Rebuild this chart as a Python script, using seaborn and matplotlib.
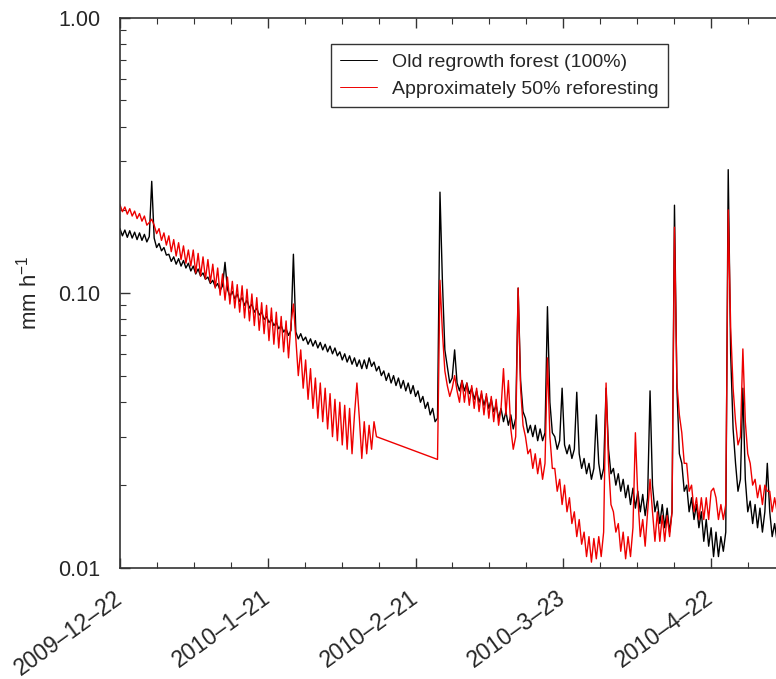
import numpy as np
import pandas as pd
import matplotlib
matplotlib.use('Agg')
import matplotlib.pyplot as plt
from matplotlib.ticker import MultipleLocator, LogLocator, NullFormatter
import seaborn as sns

# half-day samples, mm/h
step = 0.5

old_forest = [
    0.171, 0.161, 0.169, 0.159, 0.168, 0.158, 0.166, 0.156, 0.165, 0.155,
    0.163, 0.153, 0.160, 0.254, 0.158, 0.146, 0.151, 0.142, 0.146, 0.137,
    0.138, 0.130, 0.135, 0.127, 0.133, 0.125, 0.131, 0.123, 0.128, 0.120,
    0.125, 0.117, 0.122, 0.115, 0.118, 0.112, 0.114, 0.108, 0.111, 0.105,
    0.108, 0.102, 0.106, 0.129, 0.103, 0.097, 0.101, 0.095, 0.099, 0.093,
    0.096, 0.090, 0.094, 0.088, 0.091, 0.085, 0.088, 0.083, 0.085, 0.080,
    0.082, 0.078, 0.080, 0.076, 0.078, 0.074, 0.076, 0.072, 0.074, 0.070,
    0.073, 0.138, 0.072, 0.068, 0.071, 0.067, 0.069, 0.065, 0.068, 0.064,
    0.067, 0.063, 0.066, 0.062, 0.065, 0.061, 0.064, 0.060, 0.063, 0.059,
    0.061, 0.057, 0.060, 0.056, 0.059, 0.055, 0.058, 0.054, 0.057, 0.053,
    0.057, 0.053, 0.058, 0.054, 0.056, 0.052, 0.054, 0.050, 0.052, 0.048,
    0.051, 0.047, 0.050, 0.046, 0.049, 0.045, 0.048, 0.044, 0.047, 0.043,
    0.046, 0.042, 0.044, 0.040, 0.042, 0.038, 0.040, 0.036, 0.038, 0.034,
    0.035, 0.232, 0.110, 0.062, 0.054, 0.047, 0.049, 0.062, 0.047, 0.044,
    0.048, 0.044, 0.047, 0.043, 0.045, 0.041, 0.044, 0.040, 0.043, 0.039,
    0.042, 0.038, 0.041, 0.037, 0.039, 0.035, 0.038, 0.034, 0.037, 0.033,
    0.036, 0.032, 0.035, 0.104, 0.048, 0.037, 0.035, 0.031, 0.033, 0.030,
    0.033, 0.029, 0.032, 0.029, 0.031, 0.089, 0.040, 0.031, 0.030, 0.027,
    0.029, 0.045, 0.028, 0.026, 0.028, 0.025, 0.027, 0.0435, 0.026, 0.023,
    0.025, 0.022, 0.024, 0.021, 0.023, 0.036, 0.024, 0.021, 0.023, 0.045,
    0.027, 0.022, 0.023, 0.020, 0.022, 0.019, 0.021, 0.018, 0.020, 0.017,
    0.0195, 0.0165, 0.019, 0.016, 0.0185, 0.0155, 0.018, 0.044, 0.020, 0.016,
    0.0175, 0.0145, 0.017, 0.014, 0.0165, 0.0135, 0.016, 0.208, 0.045, 0.026,
    0.024, 0.019, 0.020, 0.016, 0.018, 0.015, 0.017, 0.014, 0.016, 0.0125,
    0.015, 0.012, 0.014, 0.011, 0.0135, 0.011, 0.013, 0.0115, 0.0135, 0.280,
    0.060, 0.032, 0.024, 0.019, 0.021, 0.045, 0.021, 0.016, 0.0175, 0.0145,
    0.017, 0.0140, 0.0165, 0.0135, 0.016, 0.024, 0.016, 0.013, 0.0145, 0.0125,
]

# reforesting site: record stops on day 52.5 and resumes on day 65
refor_start_a = 0.0
refor_a = [
    0.209, 0.197, 0.205, 0.193, 0.202, 0.190, 0.198, 0.186, 0.194, 0.182,
    0.190, 0.176, 0.180, 0.185, 0.176, 0.164, 0.171, 0.155, 0.165, 0.149,
    0.161, 0.141, 0.156, 0.136, 0.152, 0.132, 0.148, 0.128, 0.143, 0.125,
    0.143, 0.118, 0.139, 0.115, 0.135, 0.112, 0.132, 0.109, 0.127, 0.104,
    0.123, 0.098, 0.117, 0.094, 0.114, 0.091, 0.110, 0.088, 0.107, 0.085,
    0.106, 0.081, 0.103, 0.079, 0.099, 0.076, 0.096, 0.073, 0.092, 0.071,
    0.090, 0.067, 0.088, 0.065, 0.085, 0.063, 0.082, 0.061, 0.079, 0.058,
    0.077, 0.091, 0.068, 0.050, 0.062, 0.045, 0.057, 0.041, 0.053, 0.038,
    0.049, 0.035, 0.047, 0.034, 0.045, 0.032, 0.043, 0.030, 0.041, 0.029,
    0.040, 0.028, 0.039, 0.027, 0.038, 0.026, 0.036, 0.047, 0.035, 0.025,
    0.034, 0.026, 0.033, 0.027, 0.034, 0.030,
]
refor_start_b = 65.0
refor_b = [
    0.0248, 0.111, 0.072, 0.052, 0.046, 0.042, 0.045, 0.050, 0.044, 0.040,
    0.048, 0.040, 0.047, 0.039, 0.046, 0.038, 0.045, 0.037, 0.044, 0.036,
    0.043, 0.035, 0.042, 0.034, 0.041, 0.033, 0.038, 0.053, 0.036, 0.048,
    0.032, 0.027, 0.030, 0.104, 0.045, 0.033, 0.030, 0.026, 0.027, 0.023,
    0.026, 0.022, 0.025, 0.021, 0.024, 0.058, 0.030, 0.023, 0.023, 0.019,
    0.021, 0.017, 0.020, 0.016, 0.018, 0.0145, 0.016, 0.013, 0.015, 0.0122,
    0.0135, 0.011, 0.013, 0.0105, 0.0128, 0.0108, 0.013, 0.011, 0.0135, 0.047,
    0.024, 0.017, 0.016, 0.0135, 0.0145, 0.0115, 0.0135, 0.0108, 0.013, 0.011,
    0.014, 0.031, 0.018, 0.013, 0.015, 0.012, 0.016, 0.021, 0.016, 0.0125,
    0.016, 0.0125, 0.0155, 0.0125, 0.0155, 0.013, 0.016, 0.173, 0.047, 0.036,
    0.031, 0.024, 0.024, 0.019, 0.020, 0.016, 0.018, 0.015, 0.018, 0.015,
    0.018, 0.015, 0.019, 0.0195, 0.018, 0.015, 0.017, 0.015, 0.017, 0.200,
    0.075, 0.045, 0.034, 0.028, 0.030, 0.0625, 0.034, 0.026, 0.024, 0.020,
    0.021, 0.018, 0.020, 0.017, 0.020, 0.019, 0.019, 0.016, 0.018, 0.016,
]

labels = ['Old regrowth forest (100%)', 'Approximately 50% reforesting']
date_labels = ['2009\u201312\u201322', '2010\u20131\u201321', '2010\u20132\u201321',
               '2010\u20133\u201323', '2010\u20134\u201322']
label_days = [0, 30.25, 60.5, 90.75, 121]

t_old = np.arange(len(old_forest)) * step
t_ref = np.concatenate([refor_start_a + np.arange(len(refor_a)) * step,
                        refor_start_b + np.arange(len(refor_b)) * step])
df = pd.DataFrame({
    'day': np.concatenate([t_old, t_ref]),
    'rate': old_forest + refor_a + refor_b,
    'site': [labels[0]] * len(old_forest) + [labels[1]] * (len(refor_a) + len(refor_b)),
})

sns.set_style('ticks')
plt.rcParams['font.family'] = ['Liberation Sans', 'DejaVu Sans']
plt.rcParams['mathtext.default'] = 'regular'

fig = plt.figure(figsize=(7.76, 6.79), dpi=100)
ax = fig.add_axes([0.1546, 0.1635, 0.86, 0.8107])

sns.lineplot(data=df, x='day', y='rate', hue='site', hue_order=labels,
             palette=['black', '#ee0000'], estimator=None, sort=True,
             linewidth=1.0, ax=ax)

ax.set_yscale('log')
ax.set_ylim(0.01, 1.0)
ax.set_xlim(0, 136.6)
ax.set_yticks([0.01, 0.1, 1.0])
ax.set_yticklabels(['0.01', '0.10', '1.00'])
ax.yaxis.set_minor_locator(LogLocator(base=10, subs=np.arange(2, 10)))
ax.yaxis.set_minor_formatter(NullFormatter())
ax.set_xticks(label_days)
ax.set_xticklabels(date_labels, rotation=36, ha='right', va='center',
                   rotation_mode='anchor')
ax.xaxis.set_minor_locator(MultipleLocator(30.25 / 4))

ax.tick_params(which='both', direction='in', top=True, right=False,
               color='#333333')
ax.tick_params(axis='y', which='major', length=7, width=1, pad=14, labelsize=15.5)
ax.tick_params(axis='x', which='major', length=7, width=1, pad=20, labelsize=16.5)
ax.tick_params(which='minor', length=4, width=0.8)
for side in ['left', 'top', 'bottom']:
    ax.spines[side].set_linewidth(1.2)
    ax.spines[side].set_color('#333333')
ax.spines['right'].set_visible(False)

ax.set_xlabel('')
ax.set_ylabel('mm h$^{-1}$', fontsize=16, labelpad=12)

handles, _ = ax.get_legend_handles_labels()
leg = ax.legend(handles, labels, loc='upper right', bbox_to_anchor=(0.8216, 0.952),
                fontsize=14, frameon=True, fancybox=False, framealpha=1,
                edgecolor='#333333', handlelength=1.9, handletextpad=0.75,
                borderpad=0.5, labelspacing=0.45, borderaxespad=0)
leg.get_frame().set_linewidth(1.0)
for line in leg.get_lines():
    line.set_linewidth(0.7)

fig.savefig('out.png', dpi=100)
